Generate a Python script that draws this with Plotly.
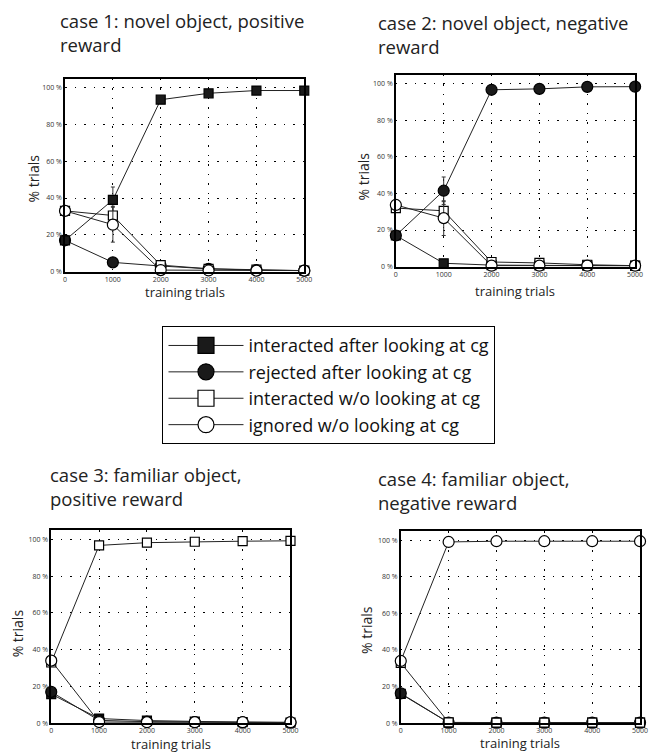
import plotly.graph_objects as go

# ---------------- data ----------------
trials = [0, 1000, 2000, 3000, 4000, 5000]
x_tick_labels = ["0", "1000", "2000", "3000", "4000", "5000"]
y_tick_vals = [0, 20, 40, 60, 80, 100]
y_tick_labels = ["0 %", "20 %", "40 %", "60 %", "80 %", "100 %"]

series_names = [
    "interacted after looking at cg",
    "rejected after looking at cg",
    "interacted w/o looking at cg",
    "ignored w/o looking at cg",
]

panel_titles = [
    "case 1: novel object, positive<br>reward",
    "case 2: novel object, negative<br>reward",
    "case 3: familiar object,<br>positive reward",
    "case 4: familiar object,<br>negative reward",
]

# case 1: novel object, positive reward
c1_int_look = [17.0, 39.0, 93.5, 97.0, 98.5, 98.5]
c1_rej_look = [17.0, 5.0, 3.0, 1.5, 0.8, 0.5]
c1_int_nolook = [33.0, 30.5, 3.5, 1.5, 1.0, 0.5]
c1_ign_nolook = [33.0, 25.5, 0.8, 0.6, 0.5, 0.5]
c1_err = [[0, 7.0, 0, 0, 0, 0], [0, 1.0, 0, 0, 0, 0], [0, 5.0, 0, 0, 0, 0], [0, 9.5, 0, 0, 0, 0]]

# case 2: novel object, negative reward
c2_int_look = [17.0, 1.8, 0.8, 0.6, 0.5, 0.4]
c2_rej_look = [17.0, 41.5, 96.7, 97.2, 98.3, 98.4]
c2_int_nolook = [32.0, 30.5, 2.5, 2.0, 1.0, 0.5]
c2_ign_nolook = [33.7, 26.5, 0.5, 0.5, 0.5, 0.5]
c2_err = [[0, 1.0, 0, 0, 0, 0], [0, 7.5, 0, 0, 0, 0], [0, 5.0, 0, 0, 0, 0], [0, 9.5, 0, 0, 0, 0]]

# case 3: familiar object, positive reward
c3_int_look = [15.8, 2.5, 1.4, 0.8, 0.5, 0.3]
c3_rej_look = [17.0, 1.5, 0.8, 0.5, 0.4, 0.3]
c3_int_nolook = [33.0, 96.7, 98.2, 98.7, 99.0, 99.2]
c3_ign_nolook = [34.0, 0.6, 0.5, 0.5, 0.5, 0.5]

# case 4: familiar object, negative reward
c4_int_look = [16.0, 0.3, 0.3, 0.3, 0.3, 0.3]
c4_rej_look = [16.3, 0.3, 0.3, 0.3, 0.3, 0.3]
c4_int_nolook = [33.0, 0.4, 0.3, 0.3, 0.3, 0.3]
c4_ign_nolook = [34.0, 99.1, 99.5, 99.5, 99.5, 99.5]

panels = [
    [c1_int_look, c1_rej_look, c1_int_nolook, c1_ign_nolook],
    [c2_int_look, c2_rej_look, c2_int_nolook, c2_ign_nolook],
    [c3_int_look, c3_rej_look, c3_int_nolook, c3_ign_nolook],
    [c4_int_look, c4_rej_look, c4_int_nolook, c4_ign_nolook],
]
panel_errors = [c1_err, c2_err, None, None]

# ---------------- styling ----------------
W, H = 650, 752
FONT = "Open Sans"
marker_symbols = ["square", "circle", "square", "circle"]
marker_fills = ["#1a1a1a", "#1a1a1a", "white", "white"]
marker_sizes = [9, 11, 9, 11]
draw_orders = [[1, 0, 2, 3], [0, 1, 2, 3], [0, 1, 2, 3], [0, 1, 2, 3]]

# axes boxes in pixels: (left, right, top, bottom)
boxes = [(64, 307, 79, 273), (400, 643, 75, 268), (50, 293, 533, 727), (405, 648, 534, 727)]
title_pos = [(57, 6), (380, 8), (47, 462), (380, 466)]
ylabel_pos = [(32, 180), (367, 177), (16, 637), (370, 633)]
xlabel_y = [294, 293, 748, 747]


def fx(px):
    return px / W


def fy(py):
    return 1 - py / H


fig = go.Figure()
annotations = []

# legend entries (a single missing point each, only the legend symbol is drawn)
for s in range(4):
    fig.add_trace(go.Scatter(
        x=[None], y=[None], mode="lines+markers", name=series_names[s], legendrank=s + 1,
        line=dict(color="#222222", width=1),
        marker=dict(symbol=marker_symbols[s], size=20, color=marker_fills[s],
                    line=dict(color="black", width=1.2)),
    ))

for p in range(4):
    sfx = "" if p == 0 else str(p + 1)
    xa, ya = "x" + sfx, "y" + sfx
    for s in draw_orders[p]:
        err = panel_errors[p]
        tr = go.Scatter(
            x=trials,
            y=panels[p][s],
            mode="lines+markers",
            name=series_names[s],
            xaxis=xa,
            yaxis=ya,
            cliponaxis=False,
            showlegend=False,
            line=dict(color="#222222", width=1),
            marker=dict(symbol=marker_symbols[s], size=marker_sizes[s], color=marker_fills[s],
                        line=dict(color="black", width=1.2)),
        )
        if err is not None:
            tr.error_y = dict(type="data", array=err[s], visible=True, color="#333333",
                              thickness=1, width=2)
        fig.add_trace(tr)

    l, r, t, b = boxes[p]
    axis_common = dict(showline=True, linecolor="black", linewidth=1.5, mirror=True,
                       showgrid=True, gridcolor="black", gridwidth=1, griddash="1.5px,8px",
                       zeroline=False, ticks="", tickfont=dict(family=FONT, size=7, color="#333333"))
    fig.update_layout({
        ("xaxis" + sfx): dict(domain=[fx(l), fx(r)], anchor=ya, range=[0, 5000],
                              tickvals=trials, ticktext=x_tick_labels, **axis_common),
        ("yaxis" + sfx): dict(domain=[fy(b), fy(t)], anchor=xa, range=[0, 105],
                              tickvals=y_tick_vals, ticktext=y_tick_labels, **axis_common),
    })

    tx, ty = title_pos[p]
    annotations.append(dict(text=panel_titles[p], x=fx(tx), y=fy(ty), xref="paper", yref="paper",
                            xanchor="left", yanchor="top", align="left", showarrow=False,
                            font=dict(family=FONT, size=18.5, color="#222222")))
    lx, ly = ylabel_pos[p]
    annotations.append(dict(text="% trials", x=fx(lx), y=fy(ly), xref="paper", yref="paper",
                            xanchor="center", yanchor="middle", textangle=-90, showarrow=False,
                            font=dict(family=FONT, size=14, color="#222222")))
    annotations.append(dict(text="training trials", x=fx((l + r) / 2), y=fy(xlabel_y[p]),
                            xref="paper", yref="paper", xanchor="center", yanchor="middle",
                            showarrow=False, font=dict(family=FONT, size=13, color="#222222")))

fig.update_layout(
    width=W, height=H,
    margin=dict(l=0, r=0, t=0, b=0),
    paper_bgcolor="white", plot_bgcolor="white",
    annotations=annotations,
    legend=dict(x=fx(163), y=fy(328), xanchor="left", yanchor="top",
                bordercolor="black", borderwidth=1, bgcolor="white",
                font=dict(family=FONT, size=18, color="#111111"),
                itemsizing="trace", itemwidth=75, tracegroupgap=0),
)

fig.write_html("out.html", config={"displayModeBar": False},
               post_script="document.body.style.margin='0';")
